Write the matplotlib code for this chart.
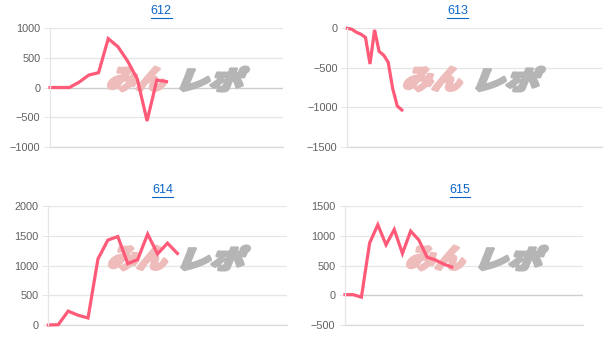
import matplotlib
matplotlib.use('Agg')
import matplotlib.pyplot as plt
from matplotlib.textpath import TextPath
from matplotlib.font_manager import FontProperties
from matplotlib.patches import PathPatch
from matplotlib.path import Path
from matplotlib.lines import Line2D
import numpy as np

# chart data (one list per machine number)
titles = ['612', '613', '614', '615']
n_games = [25, 57, 25, 30]
values_612 = [0, 0, 0, 90, 210, 250, 825, 688, 445, 140, -565, 125, 100]
values_613 = [0, -12, -50, -75, -115, -452, -20, -293, -340, -430, -765, -985, -1035]
values_614 = [0, 5, 233, 164, 118, 1110, 1428, 1486, 1032, 1100, 1528, 1194, 1376, 1202]
values_615 = [10, 10, -32, 878, 1185, 848, 1105, 702, 1078, 928, 640, 594, 525, 475]
series = [values_612, values_613, values_614, values_615]
y_ranges = [(-1000, 1000), (-1500, 0), (0, 2000), (-500, 1500)]

W, H = 613, 351
fig = plt.figure(figsize=(W / 100, H / 100), dpi=100)

# axes boxes in pixels: left, top, right, bottom
boxes = [(50, 28.3, 283, 146.7), (347.3, 28.3, 601.7, 146.7),
         (48.3, 206, 286.7, 325), (345, 206, 583, 325)]
title_pos = [(161.2, 11.3), (457.8, 11.3), (162.8, 190), (460, 190)]
mark_pos = [(177, 79), (473, 79), (178, 258), (476, 258)]

grid_c = '#e6e6e6'
line_c = '#ff5a78'
jp = FontProperties(family='Noto Sans CJK JP', weight='heavy')


def watermark(ax, cx, cy):
    # "みんレポ" logo, slanted, pink + gray
    parts = [('みん', cx - 71, cx - 11, '#efbcbc'), ('レポ', cx - 3, cx + 72, '#b5b5b5')]
    for txt, x0, x1, col in parts:
        tp = TextPath((0, 0), txt, size=1, prop=jp)
        v = tp.vertices.copy()
        v[:, 0] = v[:, 0] + 0.3 * v[:, 1]
        vmin, vmax = v.min(axis=0), v.max(axis=0)
        v = (v - vmin) / (vmax - vmin)
        v[:, 0] = (x0 + v[:, 0] * (x1 - x0)) / W
        v[:, 1] = 1 - (cy + 12 - v[:, 1] * 24) / H
        p = PathPatch(Path(v, tp.codes), facecolor=col, edgecolor=col, lw=2.2,
                      joinstyle='round', transform=fig.transFigure, zorder=1.8,
                      clip_on=False)
        ax.add_patch(p)


for i in range(4):
    l, t, r, b = boxes[i]
    ax = fig.add_axes([l / W, 1 - b / H, (r - l) / W, (b - t) / H])
    vals = series[i]
    ax.plot(range(len(vals)), vals, color=line_c, lw=2.3, zorder=2,
            solid_joinstyle='miter', clip_on=False)
    ax.set_xlim(0, n_games[i] - 1)
    lo, hi = y_ranges[i]
    ax.set_ylim(lo, hi)
    ax.set_yticks(np.arange(lo, hi + 1, 500))
    ax.set_xticks([])
    ax.set_axisbelow(True)
    ax.yaxis.grid(True, color=grid_c, lw=0.9)
    if lo < 0 < hi:
        ax.axhline(0, color='#cfcfcf', lw=0.9, zorder=0.6)
    for s in ['top', 'right', 'bottom']:
        ax.spines[s].set_visible(False)
    ax.spines['left'].set_color(grid_c)
    ax.spines['left'].set_linewidth(0.9)
    ax.axhline(lo, color='#d9d9d9', lw=0.9, zorder=0.6, clip_on=False)
    ax.tick_params(axis='y', length=4.5, width=0.7, color=grid_c, pad=2.5,
                   labelsize=7.8, labelcolor='#606060')
    for lab in ax.get_yticklabels():
        lab.set_family('Liberation Sans')
    ax.patch.set_visible(False)
    watermark(ax, *mark_pos[i])

    tx, ty = title_pos[i]
    ttl = fig.text(tx / W, 1 - ty / H, titles[i], ha='center', va='center',
                   fontsize=9, color='#0b66c8', family='Liberation Sans')
    fig.canvas.draw()
    bb = ttl.get_window_extent()
    uy = (bb.y0 - 0.5) / H
    fig.add_artist(Line2D([bb.x0 / W, bb.x1 / W], [uy, uy], color='#0b66c8', lw=0.8))

fig.savefig('out.png', dpi=100)
